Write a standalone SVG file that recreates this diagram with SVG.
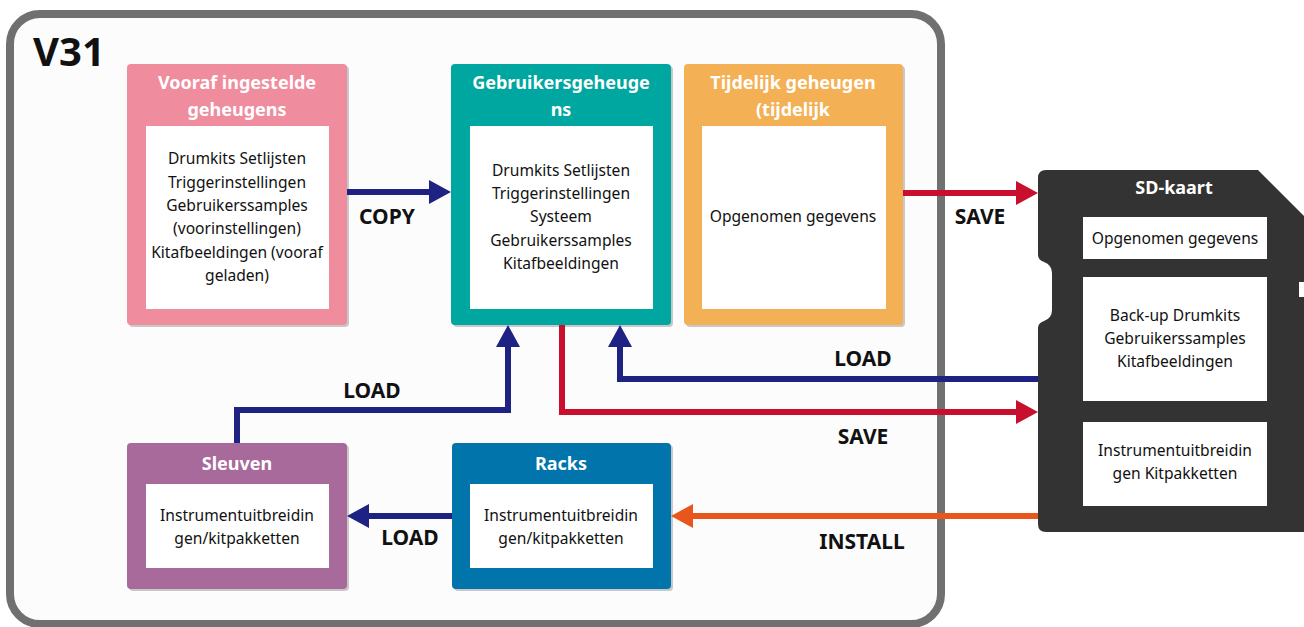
<svg xmlns="http://www.w3.org/2000/svg" width="1304" height="627" viewBox="0 0 1304 627">
<defs>
<style>
.title{font-family:"Noto Sans","Open Sans",sans-serif;font-weight:bold;font-size:18px;fill:#fff;text-anchor:middle}
.body{font-family:"Noto Sans","Open Sans",sans-serif;font-size:15.6px;fill:#111;text-anchor:middle}
.lbl{font-family:"Noto Sans","Open Sans",sans-serif;font-weight:bold;font-size:21px;fill:#111;text-anchor:middle}
.inner{fill:#fff}
.shadow{fill:#c8c8c8}
.blue{stroke:#1e2283;stroke-width:6;fill:none}
.red{stroke:#c8102e;stroke-width:6;fill:none}
.orange{stroke:#e8561c;stroke-width:6;fill:none}
</style>
</defs>
<rect x="0" y="0" width="1304" height="627" fill="#fff"/>
<g id="frame">
<rect x="10" y="14" width="931" height="610" rx="30" ry="30" fill="#fcfcfc" stroke="#707070" stroke-width="8"/>
<text x="33" y="66" font-family="Noto Sans, Open Sans, sans-serif" font-weight="bold" font-size="40" fill="#111">V31</text>
</g>
<g id="preset">
<rect class="shadow" x="129" y="66" width="220" height="261" rx="4"/>
<rect x="127" y="64" width="220" height="261" rx="4" fill="#ef8c9d"/>
<rect class="inner" x="146" y="126" width="183" height="183"/>
<text class="title" x="237" y="89">Vooraf ingestelde</text>
<text class="title" x="237" y="116">geheugens</text>
<text class="body" x="237" y="164">Drumkits Setlijsten</text>
<text class="body" x="237" y="188">Triggerinstellingen</text>
<text class="body" x="237" y="211">Gebruikerssamples</text>
<text class="body" x="237" y="234">(voorinstellingen)</text>
<text class="body" x="237" y="258">Kitafbeeldingen (vooraf</text>
<text class="body" x="237" y="281">geladen)</text>
</g>
<g id="user">
<rect class="shadow" x="453" y="66" width="220" height="261" rx="4"/>
<rect x="451" y="64" width="220" height="261" rx="4" fill="#00a6a0"/>
<rect class="inner" x="470" y="126" width="183" height="183"/>
<text class="title" x="561" y="89">Gebruikersgeheuge</text>
<text class="title" x="561" y="116">ns</text>
<text class="body" x="561" y="176">Drumkits Setlijsten</text>
<text class="body" x="561" y="199">Triggerinstellingen</text>
<text class="body" x="561" y="222">Systeem</text>
<text class="body" x="561" y="246">Gebruikerssamples</text>
<text class="body" x="561" y="269">Kitafbeeldingen</text>
</g>
<g id="temp">
<rect class="shadow" x="686" y="66" width="219" height="261" rx="4"/>
<rect x="684" y="64" width="219" height="261" rx="4" fill="#f4b055"/>
<rect class="inner" x="702" y="126" width="184" height="183"/>
<text class="title" x="793" y="89">Tijdelijk geheugen</text>
<text class="title" x="793" y="116">(tijdelijk</text>
<text class="body" x="793" y="222">Opgenomen gegevens</text>
</g>
<g id="slots">
<rect class="shadow" x="129" y="445" width="220" height="146" rx="4"/>
<rect x="127" y="443" width="220" height="146" rx="4" fill="#a8699b"/>
<rect class="inner" x="146" y="484" width="183" height="84"/>
<text class="title" x="237" y="470">Sleuven</text>
<text class="body" x="237" y="521">Instrumentuitbreidin</text>
<text class="body" x="237" y="544">gen/kitpakketten</text>
</g>
<g id="racks">
<rect class="shadow" x="454" y="445" width="219" height="146" rx="4"/>
<rect x="452" y="443" width="219" height="146" rx="4" fill="#0074ab"/>
<rect class="inner" x="470" y="484" width="183" height="84"/>
<text class="title" x="561" y="470">Racks</text>
<text class="body" x="561" y="521">Instrumentuitbreidin</text>
<text class="body" x="561" y="544">gen/kitpakketten</text>
</g>
<g id="sdcard">
<path d="M1046,170 L1258,170 L1310,222 L1310,282 L1299,282 L1299,297 L1310,297 L1310,532 L1046,532 Q1038,532 1038,524 L1038,328 Q1038,323 1044,321 Q1052,318 1052,310 L1052,273 Q1052,265 1044,262 Q1038,260 1038,255 L1038,178 Q1038,170 1046,170 Z" fill="#333"/>
<text class="title" x="1174" y="194">SD-kaart</text>
<rect class="inner" x="1083" y="217" width="184" height="42"/>
<text class="body" x="1175" y="244">Opgenomen gegevens</text>
<rect class="inner" x="1083" y="277" width="184" height="124"/>
<text class="body" x="1175" y="321">Back-up Drumkits</text>
<text class="body" x="1175" y="344">Gebruikerssamples</text>
<text class="body" x="1175" y="367">Kitafbeeldingen</text>
<rect class="inner" x="1083" y="422" width="184" height="84"/>
<text class="body" x="1175" y="456">Instrumentuitbreidin</text>
<text class="body" x="1175" y="479">gen Kitpakketten</text>
</g>
<g id="connectors">
<path class="blue" d="M347,192 H430"/>
<polygon points="451,192 429,180 429,204" fill="#1e2283"/>
<text class="lbl" x="387" y="224">COPY</text>
<path class="red" d="M903,193 H1016"/>
<polygon points="1038,193 1016,181 1016,205" fill="#c8102e"/>
<text class="lbl" x="980" y="224">SAVE</text>
<path class="blue" d="M1038,379 H620 V346"/>
<polygon points="620,325 608,347 632,347" fill="#1e2283"/>
<text class="lbl" x="863" y="366">LOAD</text>
<path class="red" d="M562,325 V412 H1016"/>
<polygon points="1038,412 1016,400 1016,424" fill="#c8102e"/>
<text class="lbl" x="863" y="444">SAVE</text>
<path class="blue" d="M237,443 V410 H508 V346"/>
<polygon points="508,325 496,347 520,347" fill="#1e2283"/>
<text class="lbl" x="372" y="398">LOAD</text>
<path class="blue" d="M452,516 H368"/>
<polygon points="347,516 369,504 369,528" fill="#1e2283"/>
<text class="lbl" x="410" y="545">LOAD</text>
<path class="orange" d="M1038,516 H692"/>
<polygon points="671,516 693,504 693,528" fill="#e8561c"/>
<text class="lbl" x="862" y="549">INSTALL</text>
</g>
</svg>
